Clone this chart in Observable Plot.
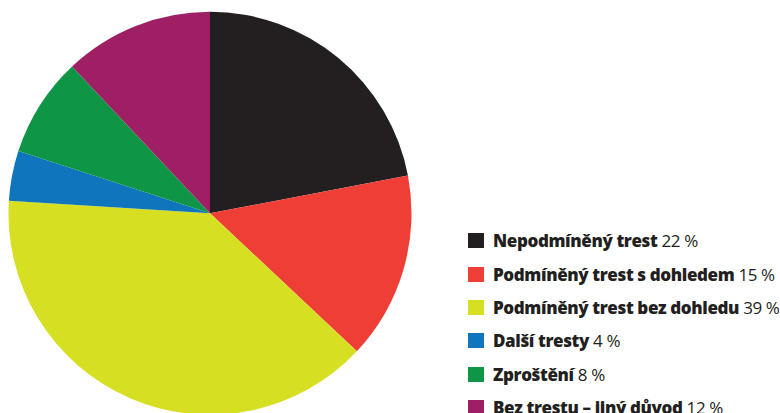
<!DOCTYPE html>
<html>
<head>
<meta charset="utf-8">
<script src="https://cdn.jsdelivr.net/npm/d3@7"></script>
<script src="https://cdn.jsdelivr.net/npm/@observablehq/plot@0.6"></script>
<style>
  html, body { margin: 0; padding: 0; background: #fff; overflow: hidden; }
  #wrap { position: relative; width: 780px; height: 413px; }
  #legend { position: absolute; left: 468px; top: 224px; font-family: "Open Sans", sans-serif; color: #231f20; }
  .row { display: flex; align-items: center; height: 33.4px; white-space: nowrap; font-size: 17px; letter-spacing: -0.38px; }
  .sw { width: 16px; height: 15px; margin-right: 9px; flex: none; }
  .row b { font-weight: 800; margin-right: 4px; }
</style>
</head>
<body>
<div id="wrap"></div>
<script>
const categories = ["Nepodmíněný trest", "Podmíněný trest s dohledem", "Podmíněný trest bez dohledu", "Další tresty", "Zproštění", "Bez trestu – jiný důvod"];
const values = [22, 15, 39, 4, 8, 12];
const colors = ["#231f20", "#ef3e36", "#d7df23", "#0f75bc", "#0e9646", "#9e1f63"];

const data = categories.map((c, i) => ({category: c, value: values[i]}));
const arcs = d3.pie().sort(null).value(d => d.value)(data);

const cx = 210, cy = 213.3, r = 201.5;

const chart = Plot.plot({
  width: 780,
  height: 413,
  margin: 0,
  x: {domain: [-1, 1], range: [cx - r, cx + r], axis: null},
  y: {domain: [-1, 1], range: [cy + r, cy - r], axis: null},
  color: {domain: categories, range: colors},
  marks: [
    Plot.dot(arcs, {
      x: () => 0, y: () => 0, fill: d => d.data.category,
      render(index, scales, values, dimensions, context) {
        const px = scales.x(0), py = scales.y(0);
        const rad = scales.x(1) - scales.x(0);
        const arc = d3.arc().innerRadius(0).outerRadius(rad);
        const g = d3.create("svg:g").attr("transform", `translate(${px},${py})`);
        for (const i of index) {
          g.append("path").attr("d", arc(arcs[i])).attr("fill", scales.color(arcs[i].data.category));
        }
        return g.node();
      }
    })
  ]
});

const wrap = document.getElementById("wrap");
wrap.appendChild(chart);

const legend = d3.select(wrap).append("div").attr("id", "legend");
const rows = legend.selectAll("div").data(data).join("div").attr("class", "row");
rows.append("span").attr("class", "sw").style("background", (d, i) => colors[i]);
rows.append("b").text(d => d.category);
rows.append("span").text(d => `${d.value} %`);
</script>
</body>
</html>
